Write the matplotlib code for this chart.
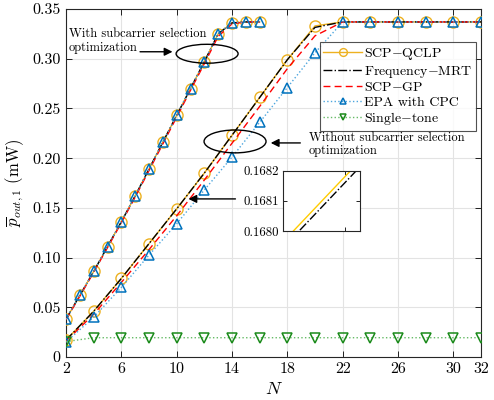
import matplotlib
matplotlib.use("Agg")
import matplotlib.pyplot as plt
from matplotlib.patches import Ellipse
import numpy as np

plt.rcParams['font.family'] = ['cmr10', 'DejaVu Serif']
plt.rcParams['mathtext.fontset'] = 'cm'
plt.rcParams['axes.unicode_minus'] = False

# ---- data ----
N_with = [2, 3, 4, 5, 6, 7, 8, 9, 10, 11, 12, 13, 14, 15, 16]
qclp_with = [0.038, 0.062, 0.086, 0.111, 0.136, 0.162, 0.189, 0.216, 0.243, 0.270, 0.297, 0.325, 0.336, 0.337, 0.337]
mrt_with = [0.038, 0.062, 0.086, 0.111, 0.136, 0.162, 0.189, 0.216, 0.243, 0.270, 0.297, 0.325, 0.336, 0.337, 0.337]
gp_with = [0.0375, 0.0612, 0.0852, 0.1100, 0.1350, 0.1608, 0.1875, 0.2143, 0.2412, 0.2682, 0.2950, 0.3225, 0.3350, 0.337, 0.337]
epa_with = [0.038, 0.062, 0.086, 0.111, 0.136, 0.162, 0.189, 0.216, 0.243, 0.270, 0.297, 0.325, 0.336, 0.337, 0.337]

N_wo = [2, 4, 6, 8, 10, 12, 14, 16, 18, 20, 22, 24, 26, 28, 30, 32]
qclp_wo = [0.017, 0.046, 0.079, 0.114, 0.149, 0.185, 0.223, 0.261, 0.299, 0.333, 0.337, 0.337, 0.337, 0.337, 0.337, 0.337]
mrt_wo = [0.017, 0.04598, 0.07898, 0.11398, 0.14898, 0.18498, 0.22298, 0.26098, 0.29898, 0.3315, 0.337, 0.337, 0.337, 0.337, 0.337, 0.337]
gp_wo = [0.016, 0.043, 0.075, 0.108, 0.142, 0.178, 0.215, 0.252, 0.290, 0.323, 0.337, 0.337, 0.337, 0.337, 0.337, 0.337]
epa_wo = [0.015, 0.040, 0.070, 0.1025, 0.134, 0.168, 0.201, 0.236, 0.271, 0.306, 0.337, 0.337, 0.337, 0.337, 0.337, 0.337]
single_tone = [0.0155, 0.0194, 0.0194, 0.0194, 0.0194, 0.0194, 0.0194, 0.0194, 0.0194, 0.0194, 0.0194, 0.0194, 0.0194, 0.0194, 0.0194, 0.0194]

x_ticks = [2, 6, 10, 14, 18, 22, 26, 30, 32]
y_ticks = [0, 0.05, 0.10, 0.15, 0.20, 0.25, 0.30, 0.35]
y_ticklabels = ['0', '0.05', '0.10', '0.15', '0.20', '0.25', '0.30', '0.35']
inset_ticks = [0.1680, 0.1681, 0.1682]
inset_ticklabels = ['0.1680', '0.1681', '0.1682']

labels = ['SCP$-$QCLP', 'Frequency$-$MRT', 'SCP$-$GP', 'EPA with CPC', 'Single$-$tone']

c_qclp = '#EDB120'
c_epa_m = '#0072BD'
c_epa_l = '#4DA6DE'
c_st_m = '#1a8a1a'
c_st_l = '#66bb66'

fig = plt.figure(figsize=(4.94, 4.00), dpi=100)
ax = fig.add_axes([66/494, 43/400, (481-66)/494, (357-9)/400])

fs = 11.5

def draw(ax, N, q, m, g, e, lab):
    ax.plot(N, q, '-', color=c_qclp, lw=1.0, marker='o', ms=8, mfc='none', mec=c_qclp, mew=1.0,
            label=lab[0] if lab else None, zorder=3)
    ax.plot(N, m, '-.', color='black', lw=1.0, label=lab[1] if lab else None, zorder=4)
    ax.plot(N, g, '--', color='red', lw=1.0, dashes=(5, 3), label=lab[2] if lab else None, zorder=4)
    ax.plot(N, e, ':', color=c_epa_l, lw=1.0, marker='^', ms=7, mfc='none', mec=c_epa_m, mew=1.1,
            label=lab[3] if lab else None, zorder=5)

draw(ax, N_with, qclp_with, mrt_with, gp_with, epa_with, None)
draw(ax, N_wo, qclp_wo, mrt_wo, gp_wo, epa_wo, labels)
ax.plot(N_wo, single_tone, ':', color=c_st_l, lw=1.0, marker='v', ms=7, mfc='none', mec=c_st_m, mew=1.1,
        label=labels[4], zorder=5)

ax.set_xlim(2, 32)
ax.set_ylim(0, 0.35)
ax.set_xticks(x_ticks)
ax.set_yticks(y_ticks)
ax.set_yticklabels(y_ticklabels)
ax.tick_params(direction='in', top=True, right=True, labelsize=fs, length=4, width=0.6, pad=4)
ax.grid(True, color='#e3e3e3', lw=0.8)
ax.set_axisbelow(True)
for s in ax.spines.values():
    s.set_linewidth(0.8)
    s.set_color('#262626')
ax.set_xlabel('$N$', fontsize=13, labelpad=0)
ax.xaxis.set_label_coords(0.5, -0.07)
ax.set_ylabel(r'$\overline{p}_{out,1}$ (mW)', fontsize=12, labelpad=4)

leg = ax.legend(loc='upper right', bbox_to_anchor=(0.9875, 0.904), fontsize=10, frameon=True, fancybox=False,
                edgecolor='#262626', handlelength=2.8, borderpad=0.25, labelspacing=0.12, handletextpad=0.15,
                borderaxespad=0, markerscale=0.7)
leg.get_frame().set_linewidth(0.8)

# annotations
ax.add_patch(Ellipse((12.2, 0.305), 4.48, 0.019, fill=False, lw=1.0, color='black', zorder=6))
ax.add_patch(Ellipse((14.22, 0.2168), 4.48, 0.023, fill=False, lw=1.0, color='black', zorder=6))

ax.annotate('', xy=(9.9, 0.307), xytext=(7.15, 0.307),
            arrowprops=dict(arrowstyle='-|>', color='black', lw=1.0, mutation_scale=12), zorder=7)
ax.text(2.22, 0.318, 'With subcarrier selection\noptimization', fontsize=9, va='center', ha='left',
        linespacing=1.15, zorder=7)

ax.annotate('', xy=(16.6, 0.2153), xytext=(19.14, 0.2153),
            arrowprops=dict(arrowstyle='-|>', color='black', lw=1.0, mutation_scale=12), zorder=7)
ax.text(19.57, 0.214, 'Without subcarrier selection\noptimization', fontsize=9, va='center', ha='left',
        linespacing=1.15, zorder=7)

ax.annotate('', xy=(10.65, 0.159), xytext=(14.45, 0.159),
            arrowprops=dict(arrowstyle='-|>', color='black', lw=1.0, mutation_scale=12), zorder=7)

# inset
iax = fig.add_axes([283.3/494, (400-231)/400, (359.5-283.3)/494, (231-170.7)/400])
iax.plot(N_wo, qclp_wo, '-', color='#FFCC00', lw=1.0)
iax.plot(N_wo, mrt_wo, '-.', color='black', lw=1.0)
iax.set_xlim(11.0536, 11.0684)
iax.set_ylim(0.1680, 0.1682)
iax.set_yticks(inset_ticks)
iax.set_yticklabels(inset_ticklabels)
iax.set_xticks([11.0655])
iax.set_xticklabels([])
iax.tick_params(direction='in', top=True, right=True, labelsize=9.3, length=3, width=0.6, pad=3)
for s in iax.spines.values():
    s.set_linewidth(0.8)
    s.set_color('#262626')

fig.savefig('out.png', dpi=100)
